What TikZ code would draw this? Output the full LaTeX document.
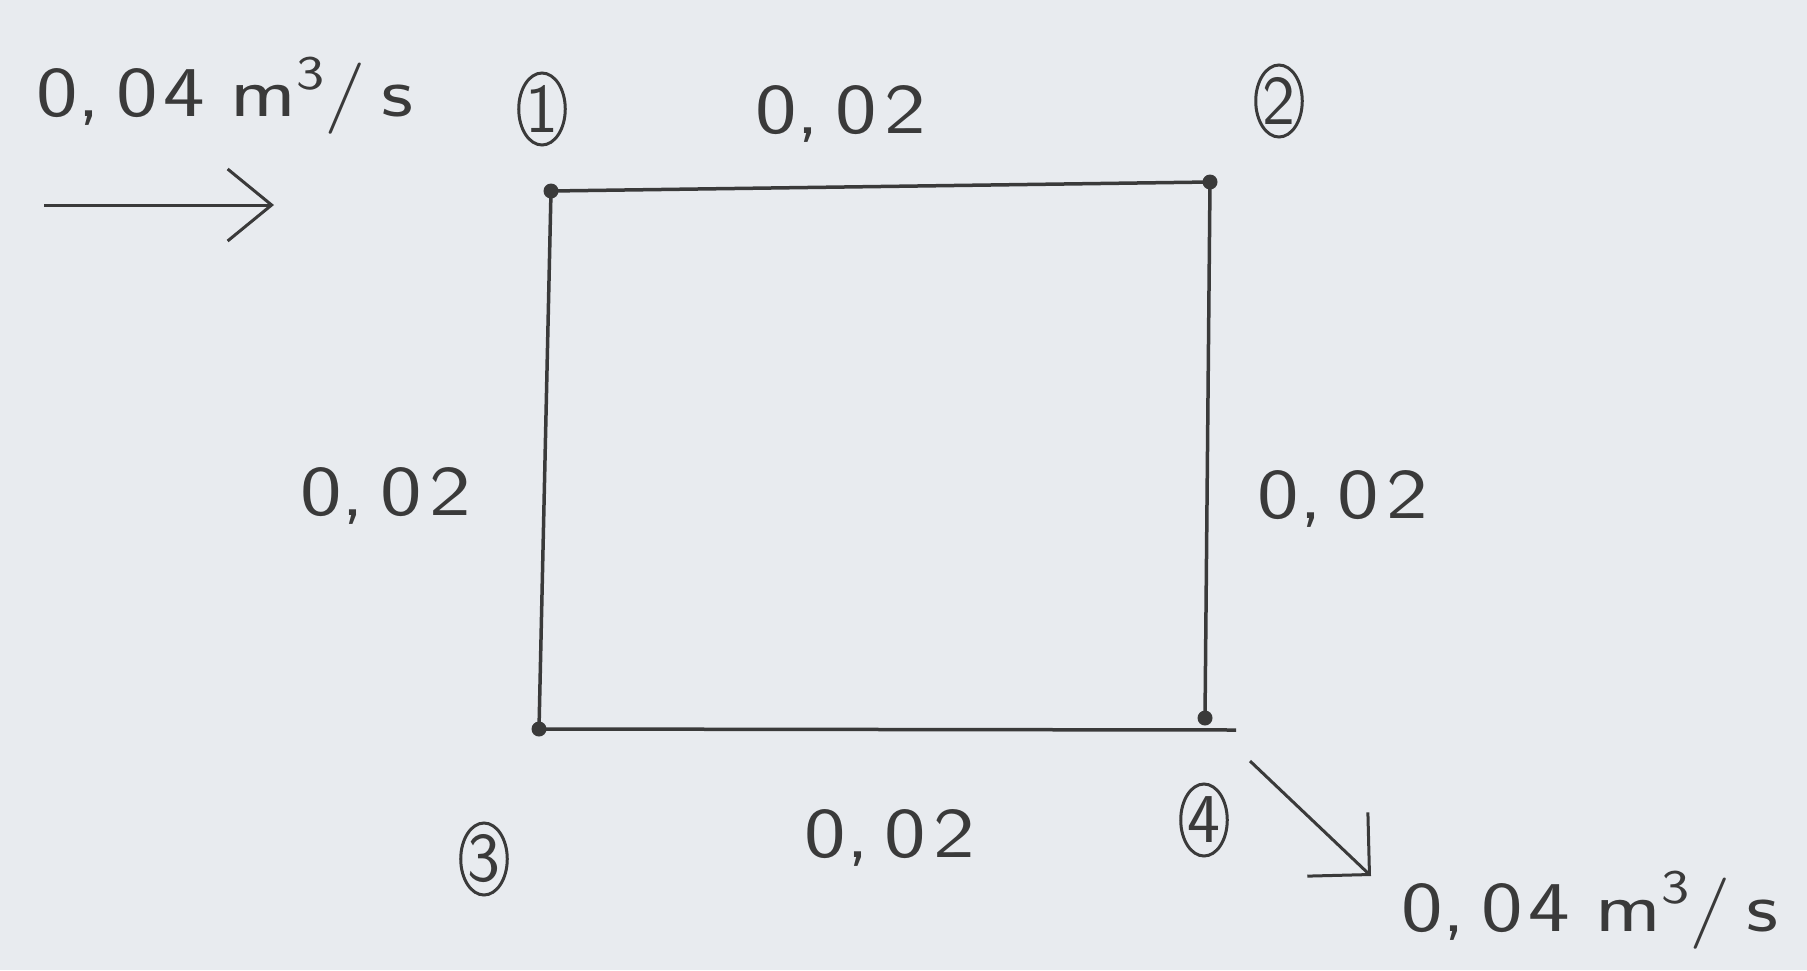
\documentclass[tikz,border=0pt]{standalone}
\usepackage{fontspec}
\usepackage{graphicx}
\usetikzlibrary{arrows.meta,shapes.geometric}
\definecolor{paper}{HTML}{E8EBEF}
\definecolor{ink}{HTML}{3A3A3A}
\newcommand\handtext[1]{\scalebox{1.3}[1.05]{#1}}
\newcommand\cubic{\raisebox{26pt}{\fontsize{46}{46}\selectfont 3}}
\begin{document}
\begin{tikzpicture}[x=1pt,y=-1pt,
  lbl/.style={text=ink, font=\sffamily\fontsize{68}{80}\selectfont, inner sep=0},
  circ/.style={draw=ink, line width=3pt, ellipse, minimum width=46pt, minimum height=72pt, inner sep=0, font=\sffamily\fontsize{70}{74}\selectfont, text=ink},
  junction/.style={circle, fill=ink, minimum size=15pt, inner sep=0},
  pipe/.style={draw=ink, line width=3.5pt},
  flowin/.style={draw=ink, line width=3pt, -{Straight Barb[length=44pt,width=72pt,line width=3pt]}},
  flowout/.style={draw=ink, line width=3pt, -{Straight Barb[length=44pt,width=88pt,line width=3pt]}}]
\fill[paper] (0,0) rectangle (1807,970);
\useasboundingbox (0,0) rectangle (1807,970);
% junctions
\node[junction] (n1) at (551,191) {};
\node[junction] (n2) at (1210,182) {};
\node[junction] (n3) at (539,729) {};
\node[junction] (n4) at (1205,718) {};
\coordinate (bend) at (1236,730);
% pipes
\draw[pipe] (n1.center) -- (n2.center);
\draw[pipe] (n2.center) -- (n4.center);
\draw[pipe] (n1.center) -- (n3.center);
\draw[pipe] (n3.center) -- (bend);
% node numbers
\node[circ] (c1) at (542,109) {1};
\node[circ] (c2) at (1279,101) {2};
\node[circ] (c3) at (484,859) {3};
\node[circ] (c4) at (1204,820) {4};
% pipe flows
\node[lbl] (q12) at (841,114) {\handtext{0,\kern12pt0\kern6pt2}};
\node[lbl] (q13) at (386,496) {\handtext{0,\kern12pt0\kern6pt2}};
\node[lbl] (q24) at (1343,499) {\handtext{0,\kern12pt0\kern6pt2}};
\node[lbl] (q34) at (890,838) {\handtext{0,\kern12pt0\kern6pt2}};
% inflow / outflow
\node[lbl] (qin) at (225,96) {\handtext{0,\kern12pt0\kern4pt4\kern20pt m\cubic/\kern12pt s}};
\coordinate (in1) at (44,205);
\coordinate (in2) at (274,205);
\draw[flowin] (in1) -- (in2);
\coordinate (out1) at (1250,761);
\coordinate (out2) at (1371,876);
\draw[flowout] (out1) -- (out2);
\node[lbl] (qout) at (1590,910) {\handtext{0,\kern12pt0\kern4pt4\kern20pt m\cubic/\kern12pt s}};
\end{tikzpicture}
\end{document}
